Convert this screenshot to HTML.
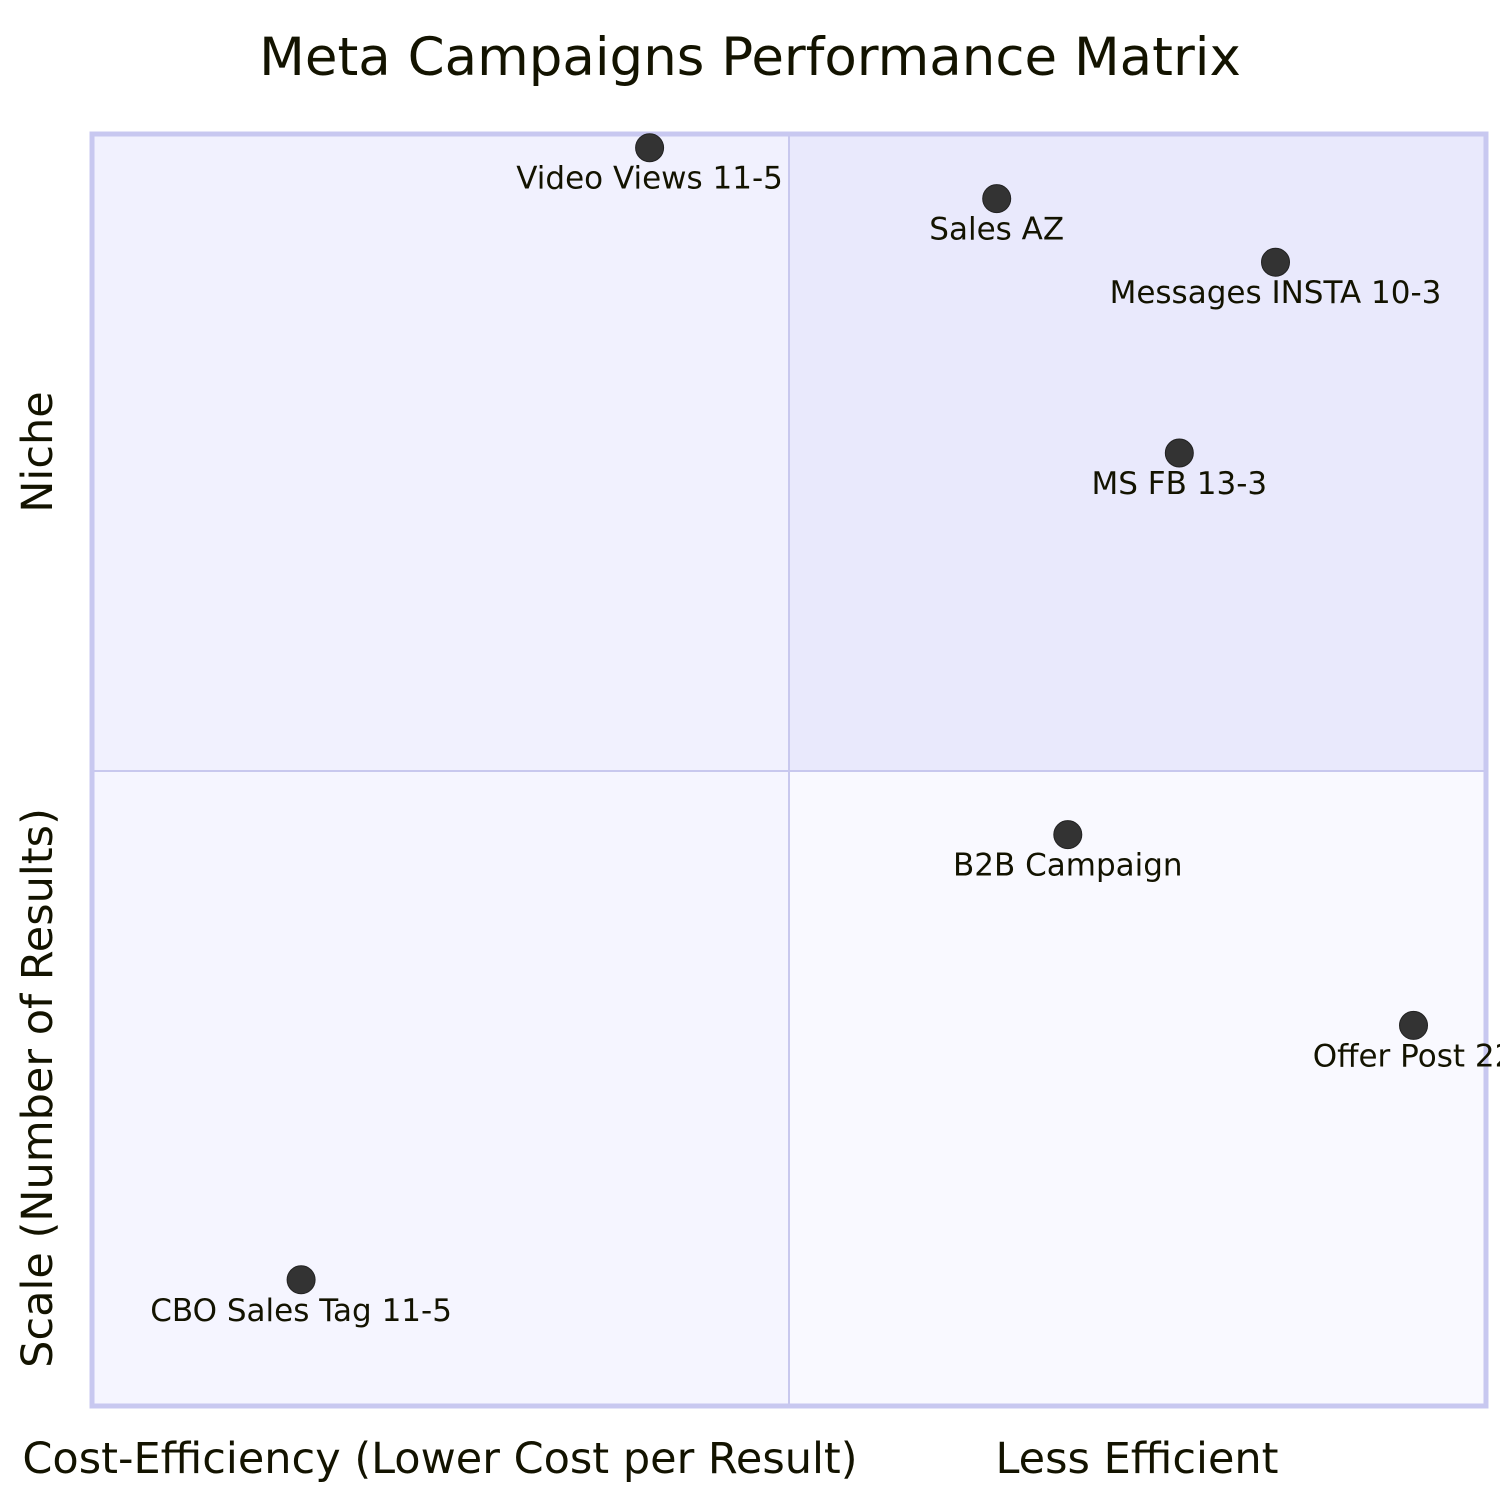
<!DOCTYPE html>
<html><head><meta charset="utf-8"><style>
html,body{margin:0;padding:0;background:#fff;}
svg text{font-family:"DejaVu Sans","Liberation Sans",sans-serif;fill:#131300;}
</style></head><body>
<svg id="chart" width="1500" height="1500" viewBox="0 0 1500 1500" xmlns="http://www.w3.org/2000/svg">
<text x="750" y="75" font-size="53" text-anchor="middle">Meta Campaigns Performance Matrix</text>
<rect x="92" y="134" width="697" height="637" fill="#f1f1fe"/>
<rect x="789" y="134" width="697" height="637" fill="#e9e9fc"/>
<rect x="92" y="771" width="697" height="635" fill="#f5f5ff"/>
<rect x="789" y="771" width="697" height="635" fill="#f9f9ff"/>
<line x1="789" y1="134" x2="789" y2="1406" stroke="#c8c8ee" stroke-width="2"/>
<line x1="92" y1="771" x2="1486" y2="771" stroke="#c8c8ee" stroke-width="2"/>
<rect x="92" y="134" width="1394" height="1272" fill="none" stroke="#c8c8f0" stroke-width="5"/>
<g id="points"></g>
<text x="440" y="1473" font-size="43" text-anchor="middle">Cost-Efficiency (Lower Cost per Result)</text>
<text x="1137" y="1473" font-size="43" text-anchor="middle">Less Efficient</text>
<text x="0" y="0" font-size="43" text-anchor="middle" transform="translate(52,1088) rotate(-90)">Scale (Number of Results)</text>
<text x="0" y="0" font-size="43" text-anchor="middle" transform="translate(52,452) rotate(-90)">Niche</text>
</svg>
<script>
const labels=["Video Views 11-5","Sales AZ","Messages INSTA 10-3","MS FB 13-3","B2B Campaign","Offer Post 22","CBO Sales Tag 11-5"];
const xValues=[0.40,0.649,0.849,0.78,0.70,0.948,0.15];
const yValues=[0.99,0.95,0.90,0.75,0.45,0.30,0.10];
const X0=92,W=1394,Y1=1406,H=1272;
function sx(v){return X0+v*W;}
function sy(v){return Y1-v*H;}
const g=document.getElementById('points');
const NS='http://www.w3.org/2000/svg';
labels.forEach((l,i)=>{
  const c=document.createElementNS(NS,'circle');
  
  
  c.setAttribute('cx',sx(xValues[i]));c.setAttribute('cy',sy(yValues[i])+1);
  c.setAttribute('r',14);c.setAttribute('fill','#333');c.setAttribute('stroke','#222');
  g.appendChild(c);
  const t=document.createElementNS(NS,'text');
  
  
  t.setAttribute('x',sx(xValues[i]));t.setAttribute('y',sy(yValues[i])+42);
  t.setAttribute('font-size','31');t.setAttribute('text-anchor','middle');
  t.textContent=l;g.appendChild(t);
});
</script>
</body></html>
